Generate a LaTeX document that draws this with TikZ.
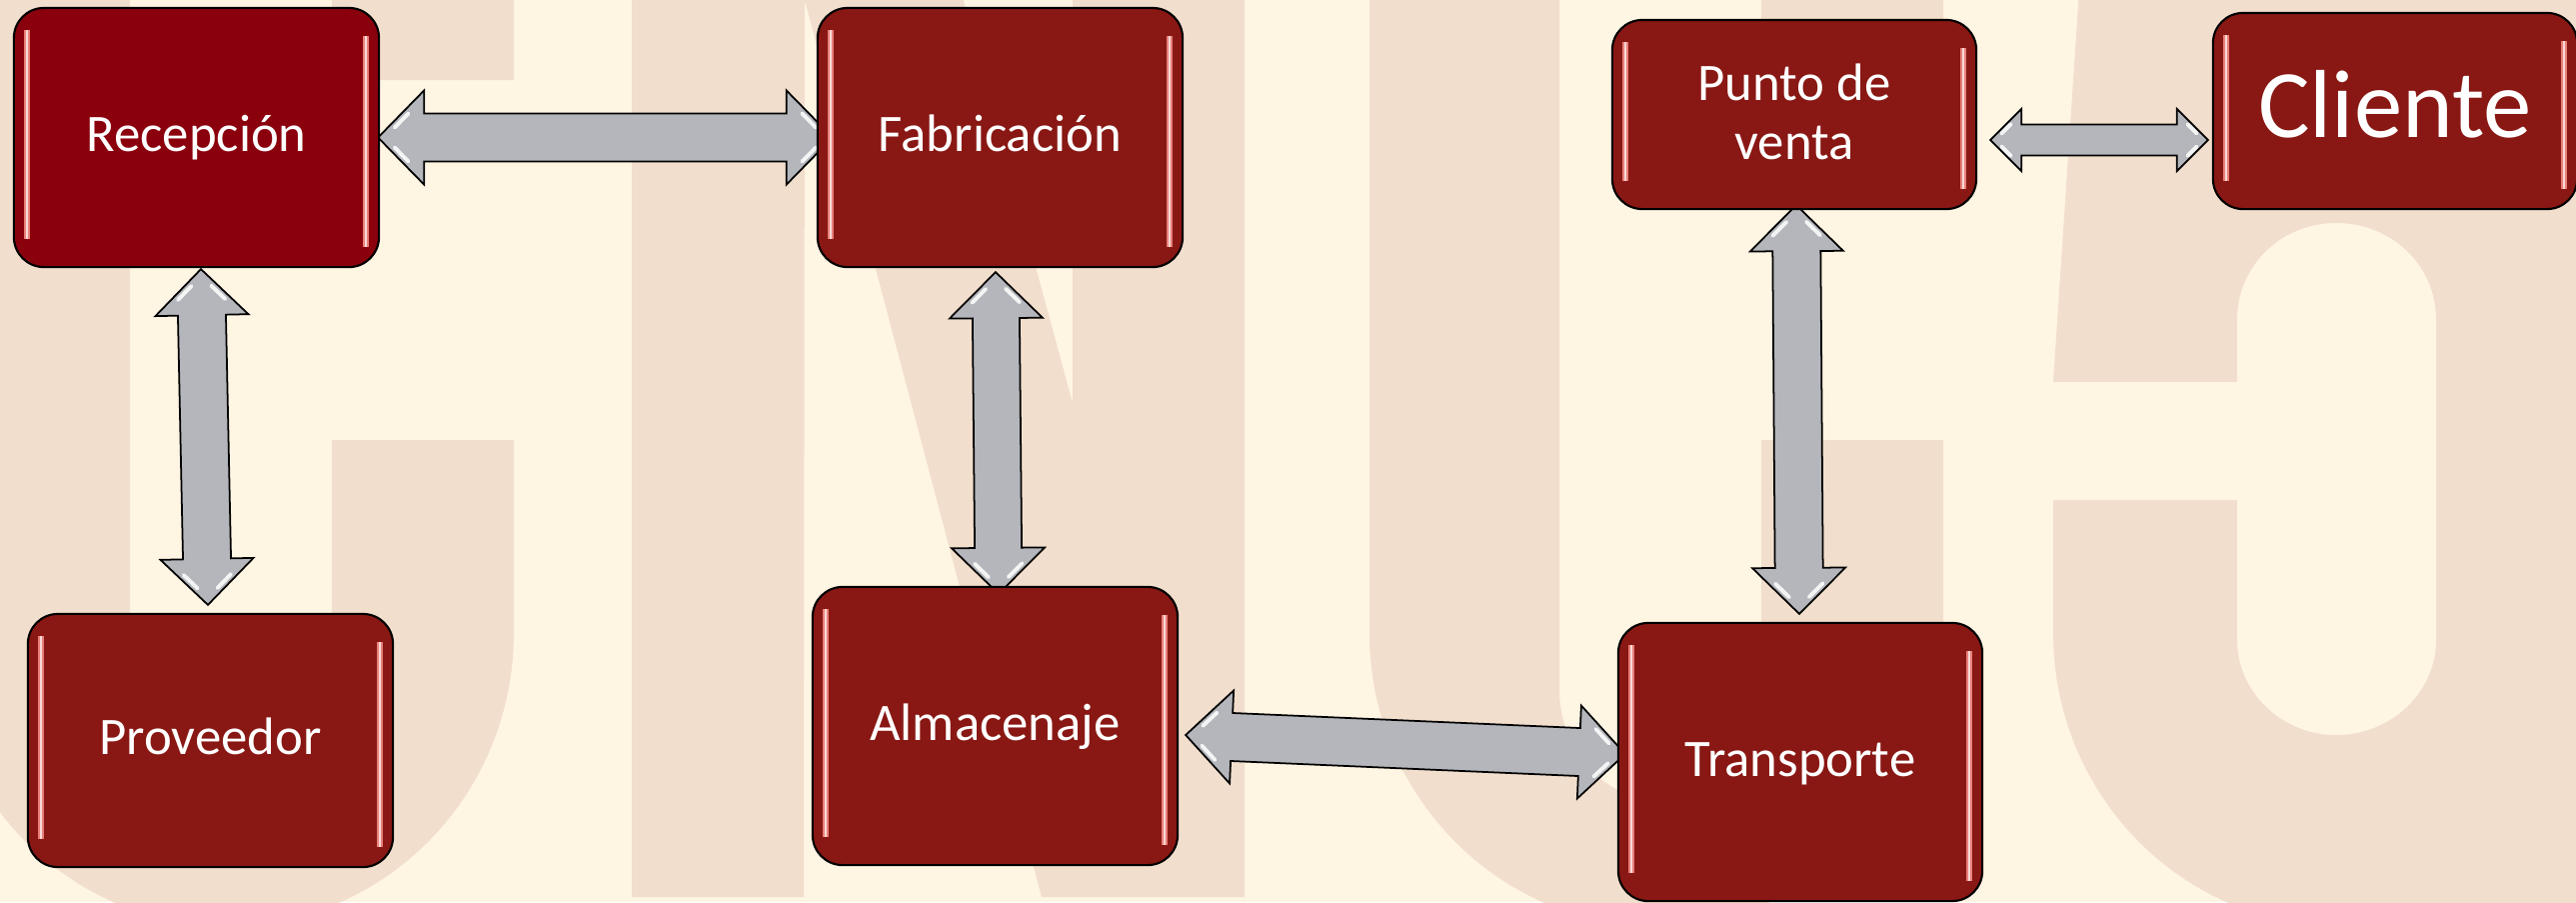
\documentclass[tikz,border=0pt]{standalone}
\usepackage{fontspec}
\setmainfont{Carlito}
\usetikzlibrary{calc}

\definecolor{cream}{RGB}{255,245,227}
\definecolor{lettertan}{RGB}{242,222,204}
\definecolor{boxred}{RGB}{137,24,20}
\definecolor{firstred}{RGB}{138,0,12}
\definecolor{arrowgray}{RGB}{180,182,187}
\definecolor{glint}{RGB}{232,128,122}

\pgfdeclarelayer{letters}
\pgfdeclarelayer{links}
\pgfsetlayers{letters,links,main}

% double headed block arrow: from, to, shaft half width, head half width, head length
\newcommand\fatarrow[5]{%
  \path (#1) coordinate (fa-s) (#2) coordinate (fa-t)
    ($(fa-s)!#5!(fa-t)$) coordinate (fa-sb)
    ($(fa-t)!#5!(fa-s)$) coordinate (fa-tb)
    ($(fa-sb)!#4!90:(fa-t)$) coordinate (fa-sl)
    ($(fa-sb)!#4!-90:(fa-t)$) coordinate (fa-sr)
    ($(fa-tb)!#4!90:(fa-s)$) coordinate (fa-tl)
    ($(fa-tb)!#4!-90:(fa-s)$) coordinate (fa-tr);
  \filldraw[linkarrow] (fa-s)
    -- (fa-sl) -- ($(fa-sb)!#3!90:(fa-t)$)
    -- ($(fa-tb)!#3!-90:(fa-s)$) -- (fa-tr)
    -- (fa-t)
    -- (fa-tl) -- ($(fa-tb)!#3!90:(fa-s)$)
    -- ($(fa-sb)!#3!-90:(fa-t)$) -- (fa-sr)
    -- cycle;
  \draw[arrowglint]
    ($(fa-s)!0.25!(fa-sl)!0.15!(fa-sb)$) -- ($(fa-s)!0.6!(fa-sl)!0.15!(fa-sb)$)
    ($(fa-s)!0.25!(fa-sr)!0.15!(fa-sb)$) -- ($(fa-s)!0.6!(fa-sr)!0.15!(fa-sb)$)
    ($(fa-t)!0.25!(fa-tl)!0.15!(fa-tb)$) -- ($(fa-t)!0.6!(fa-tl)!0.15!(fa-tb)$)
    ($(fa-t)!0.25!(fa-tr)!0.15!(fa-tb)$) -- ($(fa-t)!0.6!(fa-tr)!0.15!(fa-tb)$);}

\tikzset{
  glyphg/.pic={
    \fill[lettertan] (-60,-10) -- (-60,633)
      .. controls (-60,795) and (69,926) .. (227,926)
      .. controls (385,926) and (514,795) .. (514,633)
      -- (514,440) -- (332,440) -- (332,690)
      .. controls (332,751) and (287,800) .. (231,800)
      .. controls (175,800) and (130,751) .. (130,690)
      -- (130,-10) -- cycle
      (332,-10) rectangle (514,80);
  },
  linkarrow/.style={fill=arrowgray, draw=black, line width=0.5pt, line join=miter},
  arrowglint/.style={white, line width=1.1pt, line cap=round, opacity=0.85},
  stage/.style={draw=black, line width=0.6pt, fill=boxred, rounded corners=0.3cm,
    minimum width=3.65cm, inner sep=0pt, text=white, align=center,
    font=\fontsize{15}{16.8}\selectfont, text height=11.2pt, text depth=3pt,
    path picture={
      \draw[sharp corners, glint, line width=1.5pt]
        ([shift={(13,22)}]path picture bounding box.north west)
        -- ([shift={(13,-28)}]path picture bounding box.south west)
        ([shift={(-13,28)}]path picture bounding box.north east)
        -- ([shift={(-13,-20)}]path picture bounding box.south east);
      \draw[sharp corners, white!70!glint, line width=0.5pt]
        ([shift={(13,22)}]path picture bounding box.north west)
        -- ([shift={(13,-28)}]path picture bounding box.south west)
        ([shift={(-13,28)}]path picture bounding box.north east)
        -- ([shift={(-13,-20)}]path picture bounding box.south east);
    }},
  bigstage/.style={font=\fontsize{27.5}{30}\selectfont, text height=20.6pt, text depth=5.5pt}
}

\begin{document}
\begin{tikzpicture}[x=0.01cm, y=-0.01cm]
\useasboundingbox (0,0) rectangle (2577,902);

% background lettering
\begin{pgfonlayer}{letters}
  \fill[cream] (0,0) rectangle (2577,902);
  \begin{scope}
    \clip (0,0) rectangle (2577,902);
    \pic at (0,0) {glyphg};
    \pic at (1430,0) {glyphg};
    \fill[lettertan] (632,-10) -- (961,-10) -- (1073,403) -- (1073,-10)
      -- (1245,-10) -- (1245,897) -- (1042,897) -- (805,0) -- (804,897)
      -- (632,897) -- cycle;
    \fill[lettertan] (2080,-10) -- (2600,-10) -- (2600,926) -- (2341,926)
      .. controls (2183,926) and (2054,795) .. (2054,633) -- (2054,382) -- cycle;
    \fill[cream] (2054,382) rectangle (2238,500)
      (2238,320) .. controls (2238,265) and (2283,223) .. (2337,223)
      .. controls (2392,223) and (2437,265) .. (2437,320) -- (2437,640)
      .. controls (2437,692) and (2392,735) .. (2337,735)
      .. controls (2283,735) and (2238,692) .. (2238,640) -- cycle;
  \end{scope}
\end{pgfonlayer}

% stages
\node[stage, fill=firstred, minimum height=2.59cm] (rec) at (196.5,137.5) {Recepción};
\node[stage, minimum height=2.59cm] (fab) at (1000.5,137.5) {Fabricación};
\node[stage, minimum height=2.53cm] (prov) at (210.5,740.5) {Proveedor};
\node[stage, minimum height=2.78cm] (alm) at (995.5,726) {Almacenaje};
\node[stage, minimum width=3.64cm, minimum height=2.78cm] (tra) at (1801,762) {Transporte};
\node[stage, minimum width=3.64cm, minimum height=1.89cm, text height=28.4pt] (pdv) at (1795,114.5) {Punto de\\venta};
\node[stage, bigstage, minimum width=3.64cm, minimum height=1.96cm] (cli) at (2396,111) {Cliente};

% links
\begin{pgfonlayer}{links}
  \fatarrow{[shift={(-2,0)}]rec.east}{[shift={(16,0)}]fab.west}{2.4mm}{4.7mm}{4.6mm}
  \fatarrow{[shift={(4.5,1)}]rec.south}{[shift={(-2.5,-8)}]prov.north}{2.4mm}{4.65mm}{4.6mm}
  \fatarrow{[shift={(-4.5,4)}]fab.south}{[shift={(3.5,8)}]alm.north}{2.35mm}{4.65mm}{4.6mm}
  \fatarrow{[shift={(7,9)}]alm.east}{[shift={(8,-8)}]tra.west}{2.4mm}{4.65mm}{4.6mm}
  \fatarrow{[shift={(2,-5)}]pdv.south}{[shift={(-1,-8)}]tra.north}{2.4mm}{4.65mm}{4.6mm}
  \fatarrow{[shift={(13,25.5)}]pdv.east}{[shift={(-4,29)}]cli.west}{1.55mm}{3.1mm}{3.1mm}
\end{pgfonlayer}
\end{tikzpicture}
\end{document}
